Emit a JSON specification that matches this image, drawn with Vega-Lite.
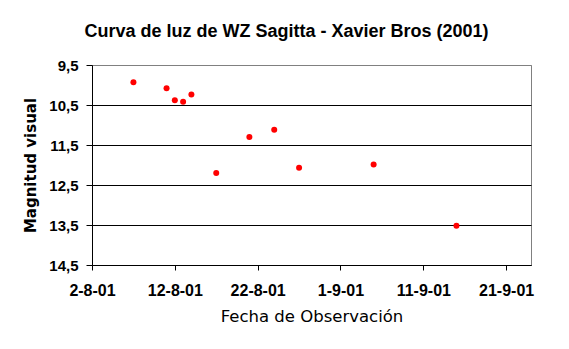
{
  "$schema": "https://vega.github.io/schema/vega-lite/v6.json",
  "autosize": "none",
  "width": 439,
  "height": 200,
  "padding": {"left": 92, "top": 65, "right": 38, "bottom": 84},
  "background": "white",
  "title": {
    "text": "Curva de luz de WZ Sagitta - Xavier Bros (2001)",
    "font": "Liberation Sans",
    "fontSize": 18,
    "fontWeight": "bold",
    "color": "black",
    "anchor": "middle",
    "baseline": "alphabetic",
    "offset": 3,
    "dx": -25
  },
  "config": {
    "view": {"stroke": "#808080", "strokeWidth": 1},
    "axis": {
      "labelFont": "Liberation Sans",
      "titleFont": "Liberation Sans",
      "labelColor": "black",
      "titleColor": "black",
      "domainColor": "black",
      "tickColor": "black",
      "labelFontWeight": "bold"
    }
  },
  "data": {
    "values": [
      {"fecha": "2001-08-07", "magnitud": 9.93},
      {"fecha": "2001-08-11", "magnitud": 10.08},
      {"fecha": "2001-08-12", "magnitud": 10.38},
      {"fecha": "2001-08-13", "magnitud": 10.42},
      {"fecha": "2001-08-14", "magnitud": 10.24},
      {"fecha": "2001-08-17", "magnitud": 12.2},
      {"fecha": "2001-08-21", "magnitud": 11.3},
      {"fecha": "2001-08-24", "magnitud": 11.12},
      {"fecha": "2001-08-27", "magnitud": 12.07},
      {"fecha": "2001-09-05", "magnitud": 11.99},
      {"fecha": "2001-09-15", "magnitud": 13.52}
    ]
  },
  "mark": {"type": "point", "filled": true, "color": "#FF0000", "opacity": 1, "size": 36, "shape": "circle"},
  "encoding": {
    "x": {
      "field": "fecha",
      "type": "temporal",
      "scale": {
        "type": "utc",
        "domain": [
          {"year": 2001, "month": 8, "date": 2, "utc": true},
          {"year": 2001, "month": 9, "date": 24, "utc": true}
        ],
        "nice": false
      },
      "axis": {
        "title": "Fecha de Observación",
        "values": [
          {"year": 2001, "month": 8, "date": 2, "utc": true},
          {"year": 2001, "month": 8, "date": 12, "utc": true},
          {"year": 2001, "month": 8, "date": 22, "utc": true},
          {"year": 2001, "month": 9, "date": 1, "utc": true},
          {"year": 2001, "month": 9, "date": 11, "utc": true},
          {"year": 2001, "month": 9, "date": 21, "utc": true}
        ],
        "labelExpr": "utcFormat(datum.value, '%-d-%-m-%y')",
        "grid": false,
        "tickSize": 5,
        "labelPadding": 12,
        "labelFontSize": 16,
        "labelAngle": 0,
        "labelOverlap": false,
        "labelFlush": false,
        "titleFont": "DejaVu Sans",
        "titleFontSize": 16.5,
        "titleFontWeight": "normal",
        "titlePadding": 10
      }
    },
    "y": {
      "field": "magnitud",
      "type": "quantitative",
      "scale": {"domain": [9.5, 14.5], "reverse": true, "nice": false, "zero": false},
      "axis": {
        "title": "Magnitud visual",
        "values": [9.5, 10.5, 11.5, 12.5, 13.5, 14.5],
        "format": ".1f",
        "labelExpr": "replace(datum.label, '.', ',')",
        "grid": true,
        "gridColor": {"condition": {"test": "datum.value === 9.5", "value": "#808080"}, "value": "black"},
        "gridOpacity": 1,
        "tickSize": 6,
        "labelPadding": 8,
        "labelFontSize": 15,
        "labelOverlap": false,
        "labelFlush": false,
        "titleFont": "DejaVu Sans",
        "titleFontSize": 15,
        "titleFontWeight": "bold",
        "titlePadding": 10
      }
    }
  }
}
